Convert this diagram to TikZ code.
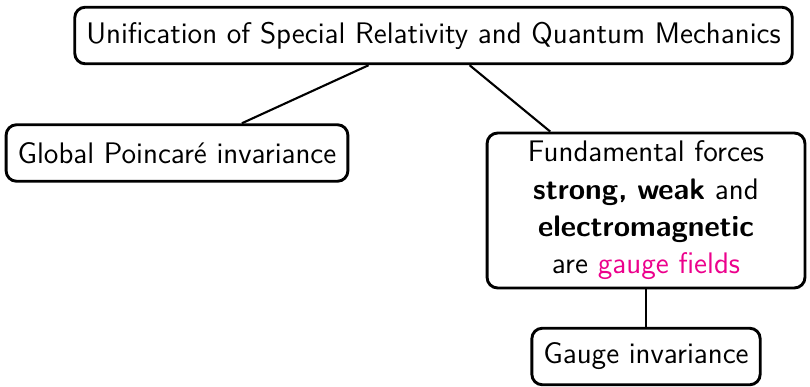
\documentclass[tikz,border=0pt]{standalone}
\usepackage{fontspec}
\definecolor{gaugepink}{RGB}{236,0,140}
\tikzset{
  box/.style={draw,line width=1.1pt,rounded corners=4pt,align=center,
    inner xsep=4.4pt,inner ysep=3pt,minimum height=21.5pt,
    font=\sffamily\fontsize{11.3}{14.2}\selectfont}
}
\begin{document}
\begin{tikzpicture}[x=0.38pt,y=-0.38pt]
    \useasboundingbox (0,0) rectangle (810,387);
    % --- boxes ---
    \node[box] (unif) at (433.5,35.5) {Unification of Special Relativity and Quantum Mechanics};
    \node[box] (poinc) at (177,153) {Global Poincar\'e invariance};
    \node[box,text width=112pt] (forces) at (646,210.5) {Fundamental forces\\
      \textbf{strong, weak} and\\ \textbf{electromagnetic}\\
      are \textcolor{gaugepink}{gauge fields}};
    \node[box] (gauge) at (646,356.5) {Gauge invariance};
    % --- links ---
    \draw[line width=0.8pt] (unif) -- (poinc);
    \draw[line width=0.8pt] (unif) -- (forces);
    \draw[line width=0.8pt] (forces) -- (gauge);
\end{tikzpicture}
\end{document}
